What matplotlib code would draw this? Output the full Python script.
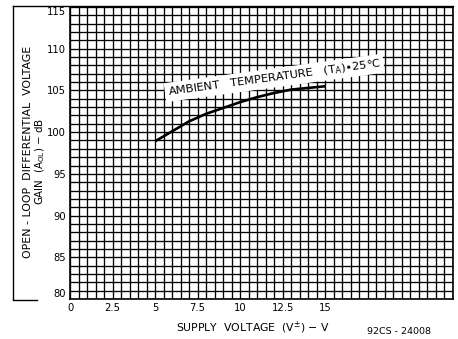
import numpy as np
import matplotlib.pyplot as plt
from matplotlib.lines import Line2D

####### ------- Curve data: open-loop gain vs supply voltage -------
supply_v = [5, 6, 7, 8, 9, 10, 11, 12, 13, 14, 15]                       ## V (+/-)
gain_db = [98.9, 100.1, 101.3, 102.2, 102.9, 103.6, 104.2, 104.7, 105.1, 105.3, 105.5]  ## dB

x_ticks = [0, 2.5, 5, 7.5, 10, 12.5, 15]
x_tick_labels = ['0', '2.5', '5', '7.5', '10', '12.5', '15']
y_ticks = [80, 85, 90, 95, 100, 105, 110, 115]

curve_note = r'AMBIENT   TEMPERATURE   (T$_{\mathrm{A}}$)$\bullet$25$\degree$C'
note_pos = (12.0, 106.5)
drawing_no = '92CS - 24008'

####### ------- Figure -------
W, H = 458, 339
fig = plt.figure(figsize=(W / 100, H / 100), dpi=100)
ax = fig.add_axes([70 / W, 1 - 299 / H, (453 - 70) / W, (299 - 7) / H])

ax.plot(supply_v, gain_db, color='black', linewidth=1.9, solid_capstyle='butt', zorder=5)

ax.set_xlim(0, 22.5)
ax.set_ylim(80, 115)

## graph-paper grid: 0.5 V by 1 dB cells
ax.set_xticks(np.arange(0, 22.51, 0.5), minor=True)
ax.set_yticks(np.arange(80, 115.1, 1), minor=True)
ax.set_xticks(x_ticks)
ax.set_xticklabels(x_tick_labels)
ax.set_yticks(y_ticks)
ax.set_yticklabels([str(v) for v in y_ticks])
ax.grid(which='both', color='black', linewidth=0.95)
ax.set_axisbelow(True)
ax.tick_params(which='both', length=0, labelsize=7.2, pad=3)

ylabs = ax.get_yticklabels()
ylabs[-1].set_va('top')
ylabs[0].set_va('bottom')

for sp in ax.spines.values():
    sp.set_linewidth(1.2)

ax.text(note_pos[0], note_pos[1], curve_note, fontsize=8.2, rotation=7.7,
        rotation_mode='anchor', ha='center', va='center', zorder=6,
        bbox=dict(facecolor='white', edgecolor='none', pad=2.0))

## axis titles
fig.text(253 / W, 1 - 328 / H, r'SUPPLY  VOLTAGE  (V$^{\pm}$) $-$ V', fontsize=7.8,
         ha='center', va='center')
fig.text(399 / W, 1 - 331 / H, drawing_no, fontsize=6.8, ha='center', va='center')
fig.text(28 / W, 1 - 152 / H, 'OPEN - LOOP  DIFFERENTIAL  VOLTAGE', fontsize=7.9,
         rotation=90, ha='center', va='center')
fig.text(40 / W, 1 - 161 / H, r'GAIN  (A$_{\mathrm{OL}}$) $-$ dB', fontsize=7.4,
         rotation=90, ha='center', va='center')

## outer frame around the y title
fig.add_artist(Line2D([13 / W, 13 / W], [1 - 6 / H, 1 - 299 / H], color='black', linewidth=1.0))
fig.add_artist(Line2D([13 / W, 453 / W], [1 - 6 / H, 1 - 6 / H], color='black', linewidth=1.0))
fig.add_artist(Line2D([13 / W, 37 / W], [1 - 300 / H, 1 - 300 / H], color='black', linewidth=1.0))

plt.savefig('out.png', dpi=100)
